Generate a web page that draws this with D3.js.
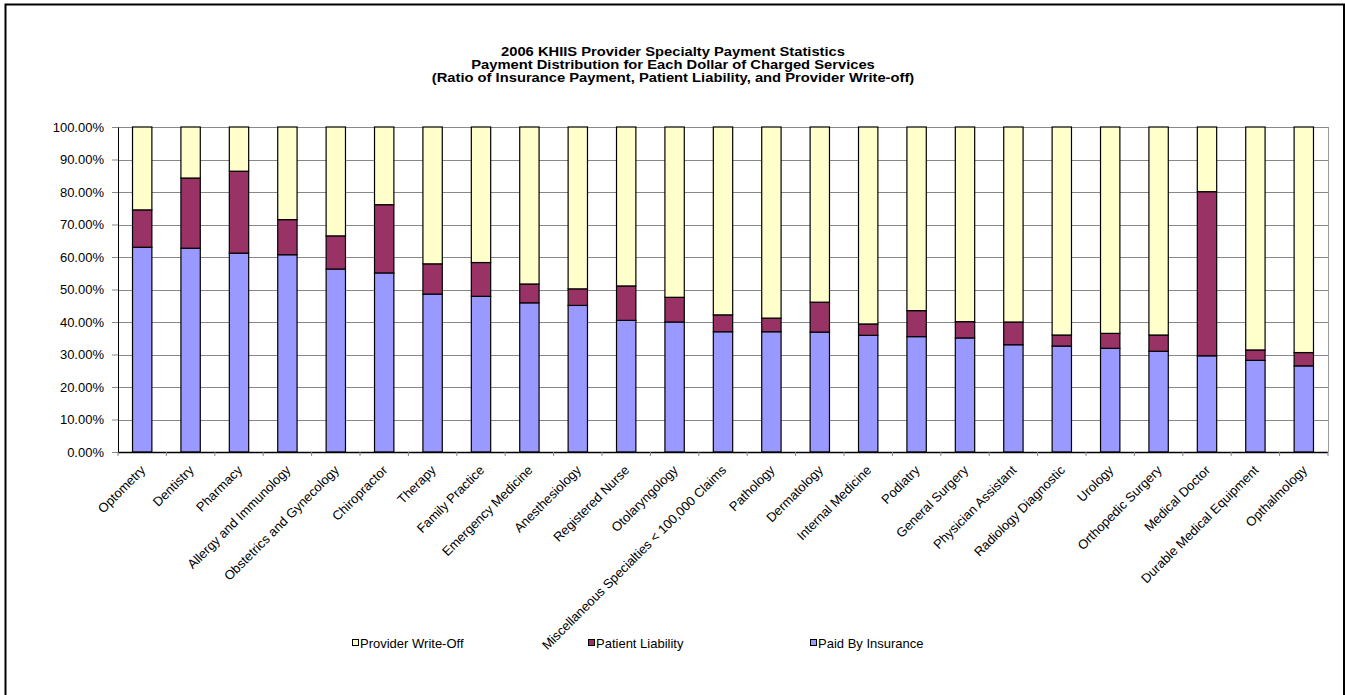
<!DOCTYPE html>
<html>
<head>
<meta charset="utf-8">
<script src="https://cdn.jsdelivr.net/npm/d3@7"></script>
<style>
  body { margin: 0; background: #fff; }
  svg { display: block; font-family: "Liberation Sans", Arial, sans-serif; }
</style>
</head>
<body>
<div id="chart"></div>
<script>
// data (percent of each charged dollar)
var categories = ['Optometry', 'Dentistry', 'Pharmacy', 'Allergy and Immunology', 'Obstetrics and Gynecology',
    'Chiropractor', 'Therapy', 'Family Practice', 'Emergency Medicine', 'Anesthesiology', 'Registered Nurse',
    'Otolaryngology', 'Miscellaneous Specialties < 100,000 Claims', 'Pathology', 'Dermatology', 'Internal Medicine',
    'Podiatry', 'General Surgery', 'Physician Assistant', 'Radiology Diagnostic', 'Urology', 'Orthopedic Surgery',
    'Medical Doctor', 'Durable Medical Equipment', 'Opthalmology'];
var paidByInsurance = [63.0, 62.7, 61.2, 60.7, 56.3, 55.1, 48.6, 47.9, 45.9, 45.1, 40.5, 40.0, 37.0,
    37.0, 36.9, 35.9, 35.5, 35.1, 33.0, 32.6, 31.9, 31.0, 29.6, 28.2, 26.5];
var patientLiability = [11.5, 21.6, 25.2, 10.8, 10.2, 21.0, 9.3, 10.4, 5.8, 5.1, 10.6, 7.6, 5.2,
    4.2, 9.2, 3.5, 8.0, 5.0, 7.0, 3.4, 4.6, 5.0, 50.5, 3.2, 4.1];
var providerWriteOff = [25.5, 15.7, 13.6, 28.5, 33.5, 23.9, 42.1, 41.7, 48.3, 49.8, 48.9, 52.4, 57.8,
    58.8, 53.9, 60.6, 56.5, 59.9, 60.0, 64.0, 63.5, 64.0, 19.9, 68.6, 69.4];
var yTicks = [0, 10, 20, 30, 40, 50, 60, 70, 80, 90, 100];

var seriesNames = ['Paid By Insurance', 'Patient Liability', 'Provider Write-Off'];
var seriesColors = ['#9999ff', '#993366', '#ffffcc'];
var titleLines = ['2006 KHIIS Provider Specialty Payment Statistics',
    'Payment Distribution for Each Dollar of Charged Services',
    '(Ratio of Insurance Payment, Patient Liability, and Provider Write-off)'];

var width = 1345, height = 695;
var plot = { left: 118, right: 1328, top: 127, bottom: 452 };

var svg = d3.select('#chart').append('svg')
    .attr('width', width)
    .attr('height', height);

// outer frame
svg.append('rect')
    .attr('x', 5.5).attr('y', 4.5)
    .attr('width', 1338.5).attr('height', 700)
    .attr('fill', 'none').attr('stroke', '#000').attr('stroke-width', 2);

// title (wide, short letters like the original)
svg.append('g').selectAll('text')
    .data(titleLines)
    .enter().append('text')
        .attr('transform', function(d, i) { return 'translate(673,' + (56 + i * 13) + ') scale(1.18,1)'; })
        .attr('text-anchor', 'middle')
        .style('font-weight', 'bold')
        .style('font-size', '12.5px')
        .text(function(d) { return d; });

var x = d3.scaleBand()
    .domain(categories)
    .range([plot.left, plot.right])
    .paddingInner(0.6)
    .paddingOuter(0.3);

var y = d3.scaleLinear()
    .domain([0, 100])
    .range([plot.bottom, plot.top]);

// gridlines
svg.append('g').selectAll('line')
    .data(yTicks)
    .enter().append('line')
        .attr('x1', plot.left).attr('x2', plot.right)
        .attr('y1', function(d) { return Math.round(y(d)) + 0.5; })
        .attr('y2', function(d) { return Math.round(y(d)) + 0.5; })
        .attr('stroke', '#888').attr('stroke-width', 1);

// right plot edge
svg.append('line')
    .attr('x1', plot.right + 0.5).attr('x2', plot.right + 0.5)
    .attr('y1', plot.top).attr('y2', plot.bottom)
    .attr('stroke', '#999');

// stacked bars
var rows = categories.map(function(c, i) {
    return { cat: c, ins: paidByInsurance[i], liab: patientLiability[i], wo: providerWriteOff[i] };
});
var stack = d3.stack().keys(['ins', 'liab', 'wo']);
var layers = stack(rows);

svg.append('g').selectAll('g')
    .data(layers)
    .enter().append('g')
        .attr('fill', function(d, i) { return seriesColors[i]; })
    .selectAll('rect')
        .data(function(d) { return d; })
        .enter().append('rect')
            .attr('x', function(d) { return x(d.data.cat); })
            .attr('y', function(d) { return y(d[1]); })
            .attr('width', x.bandwidth())
            .attr('height', function(d) { return y(d[0]) - y(d[1]); })
            .attr('stroke', '#000')
            .attr('stroke-width', 1.2);

// y axis
var yAxis = svg.append('g')
    .attr('transform', 'translate(' + plot.left + ',0)')
    .call(d3.axisLeft(y).tickValues(yTicks).tickSize(6).tickSizeOuter(0)
        .tickFormat(function(d) { return d.toFixed(2) + '%'; }));
yAxis.selectAll('text').style('font-size', '13px').attr('fill', '#000').attr('x', -14);
yAxis.select('.domain').attr('stroke', '#000');
yAxis.selectAll('.tick line').attr('stroke', '#888');

// x axis (ticks between categories)
var bounds = d3.range(categories.length + 1).map(function(i) { return plot.left + i * (plot.right - plot.left) / categories.length; });
svg.append('line')
    .attr('x1', plot.left).attr('x2', plot.right)
    .attr('y1', plot.bottom + 0.5).attr('y2', plot.bottom + 0.5)
    .attr('stroke', '#000').attr('stroke-width', 1.5);
svg.append('g').selectAll('line')
    .data(bounds)
    .enter().append('line')
        .attr('x1', function(d) { return d; }).attr('x2', function(d) { return d; })
        .attr('y1', plot.bottom).attr('y2', plot.bottom + 4)
        .attr('stroke', '#888');

svg.append('g').selectAll('text')
    .data(categories)
    .enter().append('text')
        .attr('transform', function(d) {
            return 'translate(' + (x(d) + x.bandwidth() / 2 + 4) + ',' + 471 + ') rotate(-45)';
        })
        .attr('text-anchor', 'end')
        .style('font-size', '13px')
        .text(function(d) { return d; });

// legend
var legendX = [352, 588, 810];
var legendOrder = [2, 1, 0];
var legend = svg.append('g').selectAll('g')
    .data(legendOrder)
    .enter().append('g')
        .attr('transform', function(d, i) { return 'translate(' + legendX[i] + ',643)'; });
legend.append('rect')
    .attr('x', 0.5).attr('y', -3.5)
    .attr('width', 6).attr('height', 6)
    .attr('fill', function(d) { return seriesColors[d]; })
    .attr('stroke', '#000');
legend.append('text')
    .attr('x', 8).attr('y', 4.5)
    .style('font-size', '13px')
    .text(function(d) { return seriesNames[d]; });
</script>
</body>
</html>
